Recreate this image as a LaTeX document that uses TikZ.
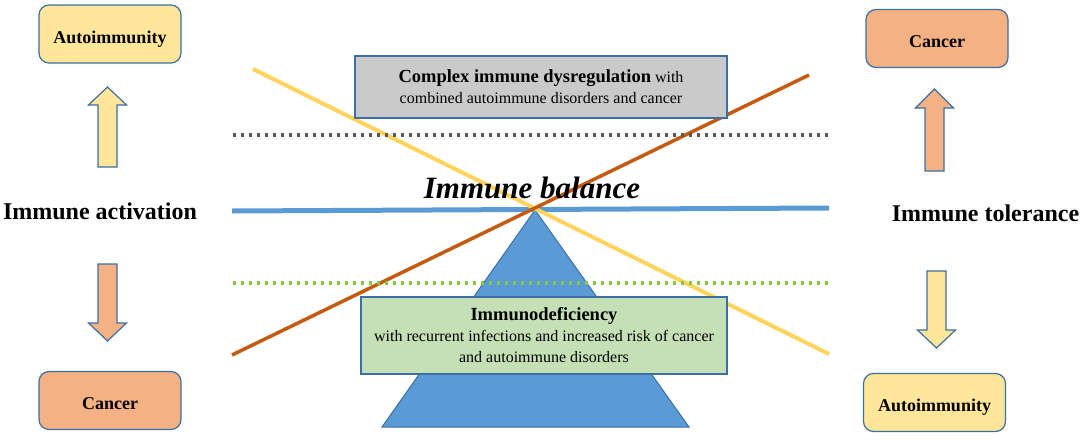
\documentclass[tikz,border=0pt]{standalone}
\usepackage{fontspec}
\setmainfont{Liberation Serif}
\usepackage{xcolor}
\usepackage{tikz}

\definecolor{autoyellow}{HTML}{FFE699}
\definecolor{cancerorange}{HTML}{F4B183}
\definecolor{boxblue}{HTML}{3B6FA5}
\definecolor{dysgray}{HTML}{CACACA}
\definecolor{defgreen}{HTML}{C5E0B4}
\definecolor{balblue}{HTML}{5B9BD5}
\definecolor{lineyellow}{HTML}{FFD35C}
\definecolor{lineorange}{HTML}{C55A11}
\definecolor{dotgray}{HTML}{595959}
\definecolor{dotgreen}{HTML}{86C843}

\tikzset{
  statebox/.style={rectangle, rounded corners=10pt, draw=boxblue, line width=1.2pt,
    minimum width=142pt, minimum height=58pt, text height=22pt, text depth=4pt,
    font=\fontsize{18}{22}\selectfont\bfseries},
  levelbox/.style={rectangle, draw=boxblue, line width=1.2pt, align=center,
    font=\fontsize{16}{21}\selectfont},
  arrowbody/.style={draw=boxblue, line width=1.2pt},
  sidelabel/.style={font=\fontsize{24}{28}\selectfont\bfseries},
  dotline/.style={line width=3.4pt, dash pattern=on 3.4pt off 4.6pt}
}

% block arrow: fill, centre x, tail y, head base y, tip y
\newcommand{\blockarrow}[5]{%
  \filldraw[arrowbody, fill=#1]
    ({#2-9.5},#3) -- ({#2-9.5},#4) -- ({#2-19},#4) -- (#2,#5)
    -- ({#2+19},#4) -- ({#2+9.5},#4) -- ({#2+9.5},#3) -- cycle;}

\begin{document}
\begin{tikzpicture}[x=1pt, y=-1pt]
    \useasboundingbox (0,0) rectangle (1084,439);

    % pivot and beam
    \coordinate (apex) at (535,210);
    \coordinate (base-l) at (382,427);
    \coordinate (base-r) at (689,427);
    \filldraw[fill=balblue, draw=boxblue, line width=1pt] (apex) -- (base-l) -- (base-r) -- cycle;

    \coordinate (beam-l) at (232,211);
    \coordinate (beam-r) at (829,208);
    \draw[balblue, line width=5pt] (beam-l) -- (beam-r);

    % crossing lines
    \coordinate (auto-s) at (253,69);
    \coordinate (auto-e) at (829,354);
    \coordinate (canc-s) at (232,355);
    \coordinate (canc-e) at (809,75);
    \draw[lineyellow, line width=4pt] (auto-s) -- (auto-e);
    \draw[lineorange, line width=3.5pt] (canc-s) -- (canc-e);

    % limits
    \coordinate (upper-l) at (233,135);
    \coordinate (upper-r) at (830,135);
    \coordinate (lower-l) at (233,283);
    \coordinate (lower-r) at (830,283);
    \draw[dotline, dotgray] (upper-l) -- (upper-r);
    \draw[dotline, dotgreen] (lower-l) -- (lower-r);

    \node[levelbox, fill=dysgray, minimum width=372pt, minimum height=62pt] (dysreg) at (541,87)
        {{\fontsize{18.5}{22}\selectfont\bfseries Complex immune dysregulation} with\\combined autoimmune disorders and cancer};
    \node[levelbox, fill=defgreen, minimum width=366pt, minimum height=77pt] (immdef) at (544,335.5)
        {{\fontsize{18.5}{22}\selectfont\bfseries Immunodeficiency}\\with recurrent infections and increased risk of cancer\\and autoimmune disorders};

    \node[font=\fontsize{31}{35}\selectfont\bfseries\itshape] (balance) at (532,187.5) {Immune balance};

    % sides
    \node[sidelabel] (activ) at (100,211) {Immune activation};
    \node[sidelabel] (toler) at (985.5,213) {Immune tolerance};

    \node[statebox, fill=autoyellow] (auto-l) at (110,34) {Autoimmunity};
    \node[statebox, fill=cancerorange] (canc-l) at (110,400.5) {Cancer};
    \node[statebox, fill=cancerorange] (canc-r) at (937,38.5) {Cancer};
    \node[statebox, fill=autoyellow] (auto-r) at (934.5,402.5) {Autoimmunity};

    \blockarrow{autoyellow}{107.5}{167}{105}{87}
    \blockarrow{cancerorange}{107.5}{264}{323}{341}
    \blockarrow{cancerorange}{934.5}{171}{108}{89}
    \blockarrow{autoyellow}{936.5}{271}{330}{348}
\end{tikzpicture}
\end{document}
